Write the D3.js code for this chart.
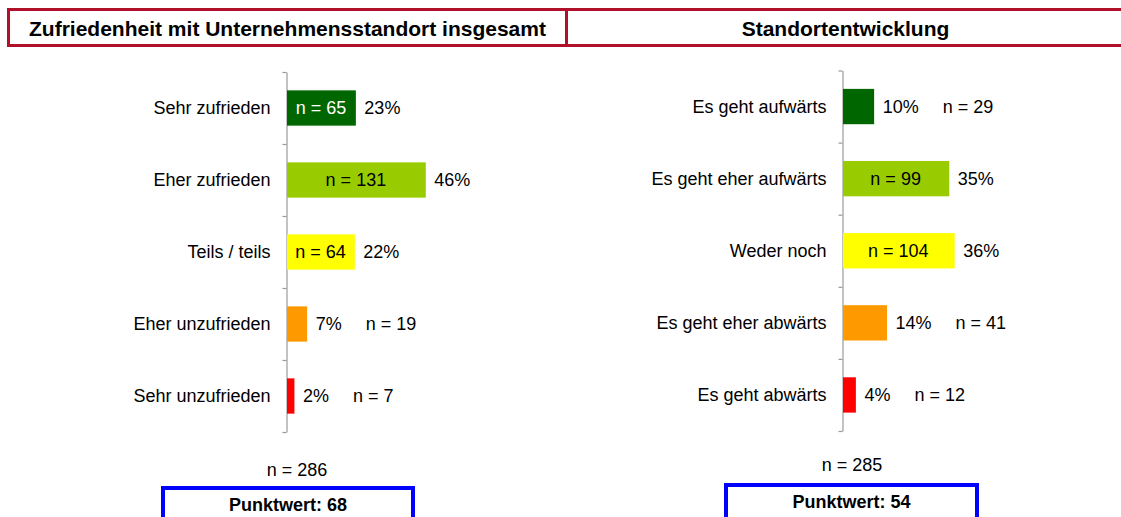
<!DOCTYPE html>
<html>
<head>
<meta charset="utf-8">
<script src="https://cdn.jsdelivr.net/npm/d3@7"></script>
<style>
  body { margin: 0; background: #fff; }
  svg { display: block; font-family: "Liberation Sans", Arial, sans-serif; }
</style>
</head>
<body>
<div id="chart"></div>
<script>
"use strict";

// chart values
var leftTitle = "Zufriedenheit mit Unternehmensstandort insgesamt";
var leftCategories = ["Sehr zufrieden", "Eher zufrieden", "Teils / teils", "Eher unzufrieden", "Sehr unzufrieden"];
var leftCounts = [65, 131, 64, 19, 7];
var leftTotal = 286;
var leftScore = 68;

var rightTitle = "Standortentwicklung";
var rightCategories = ["Es geht aufwärts", "Es geht eher aufwärts", "Weder noch", "Es geht eher abwärts", "Es geht abwärts"];
var rightCounts = [29, 99, 104, 41, 12];
var rightTotal = 285;
var rightScore = 54;

var barColors = ["#006600", "#99CC00", "#FFFF00", "#FF9900", "#FF0000"];
var insideTextColors = ["#FFFFFF", "#000000", "#000000", "#000000", "#000000"];

var width = 1121;
var height = 517;

var svg = d3.select("#chart").append("svg").attr("width", width).attr("height", height);

// header boxes
function header(x, w, title) {
  svg.append("rect").attr("x", x).attr("y", 9.5).attr("width", w).attr("height", 36)
    .style("fill", "#fff").style("stroke", "#B0102A").style("stroke-width", 3);
  svg.append("text").attr("x", x + w / 2).attr("y", 36).attr("text-anchor", "middle")
    .style("font-size", "21px").style("font-weight", "bold").style("fill", "#000")
    .text(title);
}
header(8.5, 558, leftTitle);
header(566.5, 558, rightTitle);

// one bar panel
function panel(opt) {
  var g = svg.append("g");
  var n = opt.categories.length;

  var y = d3.scaleBand().domain(opt.categories).range([opt.top, opt.bottom]).paddingInner(0.51).paddingOuter(0.255);
  var x = d3.scaleLinear().domain([0, 1]).range([opt.axisX, opt.axisX + opt.fullWidth]);
  var yTicks = d3.scaleLinear().domain([0, n]).range([opt.top, opt.bottom]);

  // category axis with ticks between bands
  var axis = g.append("g").attr("transform", "translate(" + opt.axisX + ",0)")
    .call(d3.axisLeft(yTicks).tickValues(d3.range(n + 1)).tickSize(4).tickSizeOuter(0).tickFormat(""));
  axis.selectAll("path, line").style("stroke", "#9A9A9A").style("stroke-width", 1.2);

  var rows = g.selectAll(".row").data(opt.categories).enter().append("g").attr("class", "row");

  rows.append("rect")
    .attr("x", x(0) + 0.5)
    .attr("y", function (d) { return y(d); })
    .attr("height", y.bandwidth())
    .attr("width", function (d, i) { return x(opt.counts[i] / opt.total) - x(0); })
    .style("fill", function (d, i) { return barColors[i]; });

  rows.append("text")
    .attr("x", opt.axisX - 16)
    .attr("y", function (d) { return y(d) + y.bandwidth() / 2; })
    .attr("dy", "0.35em")
    .attr("text-anchor", "end")
    .style("font-size", "18px")
    .text(function (d) { return d; });

  rows.each(function (d, i) {
    var row = d3.select(this);
    var cy = y(d) + y.bandwidth() / 2;
    var barEnd = x(opt.counts[i] / opt.total);
    var pct = Math.round(opt.counts[i] / opt.total * 100) + "%";
    var nLabel = "n = " + opt.counts[i];

    var pctText = row.append("text").attr("x", barEnd + 9).attr("y", cy).attr("dy", "0.35em")
      .style("font-size", "18px").text(pct);

    var nText = row.append("text").attr("y", cy).attr("dy", "0.35em")
      .style("font-size", "18px").text(nLabel);
    var nWidth = nText.node().getComputedTextLength();

    if (nWidth + 14 < barEnd - x(0)) {
      // label fits inside the bar
      nText.attr("x", (x(0) + barEnd) / 2).attr("text-anchor", "middle")
        .style("fill", insideTextColors[i]);
    } else {
      var pw = pctText.node().getComputedTextLength();
      nText.attr("x", barEnd + 9 + pw + 24);
    }
  });

  // footer: total and score box
  g.append("text").attr("x", opt.nX).attr("y", opt.nY).attr("text-anchor", "middle")
    .style("font-size", "18px").text("n = " + opt.total);

  g.append("rect").attr("x", opt.boxX).attr("y", opt.boxY).attr("width", opt.boxW).attr("height", 50)
    .style("fill", "#fff").style("stroke", "#0000FF").style("stroke-width", 4);
  g.append("text").attr("x", opt.boxX + opt.boxW / 2).attr("y", opt.boxY + 23).attr("text-anchor", "middle")
    .style("font-size", "18px").style("font-weight", "bold").text("Punktwert: " + opt.score);
}

panel({
  categories: leftCategories, counts: leftCounts, total: leftTotal, score: leftScore,
  axisX: 286.5, top: 72, bottom: 432, fullWidth: 303,
  nX: 297, nY: 476, boxX: 163, boxY: 488, boxW: 250
});

panel({
  categories: rightCategories, counts: rightCounts, total: rightTotal, score: rightScore,
  axisX: 842.5, top: 70.5, bottom: 431, fullWidth: 306,
  nX: 852, nY: 471, boxX: 726, boxY: 485, boxW: 251
});
</script>
</body>
</html>
